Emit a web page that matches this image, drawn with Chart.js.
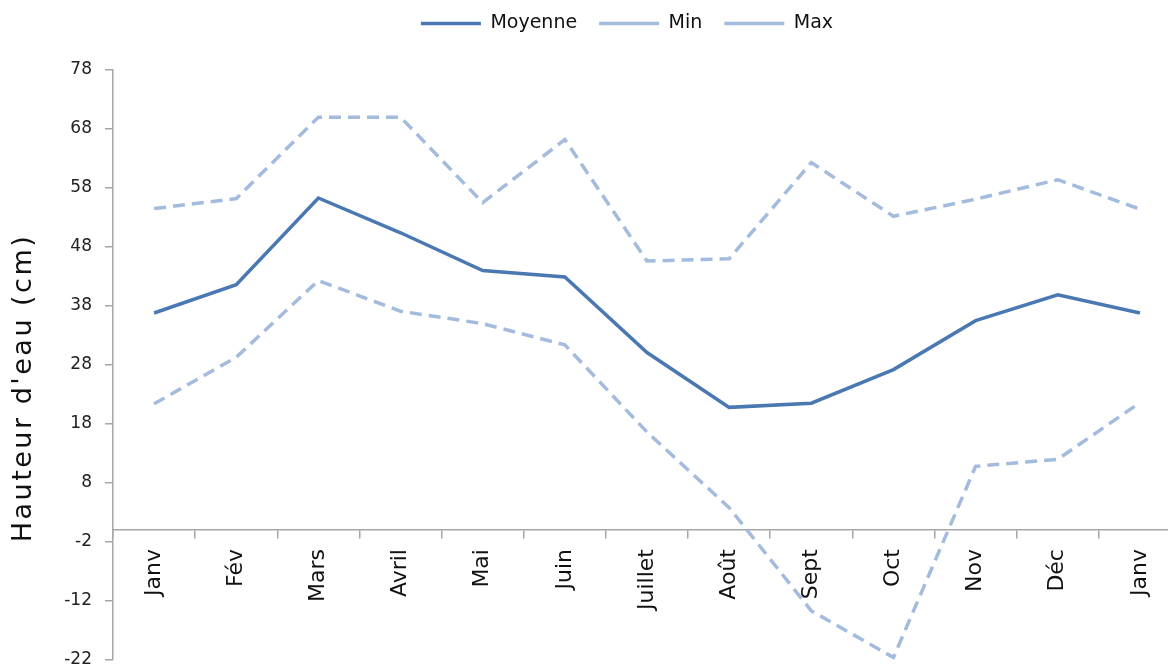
<!DOCTYPE html>
<html>
<head>
<meta charset="utf-8">
<script src="https://cdn.jsdelivr.net/npm/chart.js@4/dist/chart.umd.min.js"></script>
<style>
  html, body { margin: 0; padding: 0; background: #fff; overflow: hidden; }
  #wrap { position: relative; width: 1181px; height: 683px; }
</style>
</head>
<body>
<div id="wrap"><canvas id="graphique"></canvas></div>
<script>
// valeurs
const mois = ['Janv', 'Fév', 'Mars', 'Avril', 'Mai', 'Juin', 'Juillet', 'Août', 'Sept', 'Oct', 'Nov', 'Déc', 'Janv'];
const moyenne = [36.8, 41.6, 56.3, 50.4, 44.0, 42.9, 30.1, 20.8, 21.5, 27.2, 35.5, 39.9, 36.8];
const minimum = [21.4, 29.3, 42.3, 37.1, 35.0, 31.4, 16.6, 3.8, -13.7, -21.6, 10.8, 12.0, 21.6];
const maximum = [54.5, 56.2, 70.0, 70.0, 55.5, 66.2, 45.6, 46.0, 62.3, 53.2, 56.1, 59.4, 54.4];
const yTicks = [-22, -12, -2, 8, 18, 28, 38, 48, 58, 68, 78];

const bleu = '#4a78b2';
const bleuClair = '#a3bbdd';
const gris = '#a6a6a6';

// titre de l'axe Y dessiné à la main (décalé vers le bas comme sur l'original)
const titreAxe = {
    id: 'titreAxe',
    afterDraw(chart) {
        const ctx = chart.ctx;
        ctx.save();
        ctx.translate(24, 388);
        ctx.rotate(-Math.PI / 2);
        ctx.font = '27px "DejaVu Sans"';
        ctx.letterSpacing = '2.5px';
        ctx.fillStyle = '#111';
        ctx.textAlign = 'center';
        ctx.textBaseline = 'middle';
        ctx.fillText("Hauteur d'eau (cm)", 0, 0);
        ctx.restore();
    }
};

// un peu plus d'espace sous la légende, et légende décalée vers la gauche
const reglageLegende = {
    id: 'reglageLegende',
    beforeInit(chart) {
        const fit = chart.legend.fit;
        chart.legend.fit = function () {
            fit.call(this);
            this.height += 27;
        };
    },
    afterLayout(chart) {
        chart.legend.left -= 20;
        chart.legend.right -= 20;
    }
};

const ctx = document.getElementById('graphique').getContext('2d');
new Chart(ctx, {
    type: 'line',
    data: {
        labels: mois,
        datasets: [
            { label: 'Moyenne', data: moyenne, borderColor: bleu, backgroundColor: bleu, borderWidth: 3.5 },
            { label: 'Min', data: minimum, borderColor: bleuClair, backgroundColor: bleuClair, borderWidth: 3.5, borderDash: [12, 7] },
            { label: 'Max', data: maximum, borderColor: bleuClair, backgroundColor: bleuClair, borderWidth: 3.5, borderDash: [12, 7] }
        ]
    },
    options: {
        responsive: true,
        maintainAspectRatio: false,
        animation: false,
        layout: { padding: { left: 0, right: 0, top: -8, bottom: 0 } },
        elements: {
            point: { radius: 0, hoverRadius: 0 },
            line: { tension: 0, borderJoinStyle: 'miter' }
        },
        plugins: {
            tooltip: { enabled: false },
            legend: {
                position: 'top',
                fullSize: false,
                labels: {
                    usePointStyle: true,
                    pointStyle: 'line',
                    pointStyleWidth: 60,
                    color: '#111',
                    font: { family: 'DejaVu Sans', size: 19 },
                    padding: 22
                }
            }
        },
        scales: {
            x: {
                position: { y: 0 },
                offset: true,
                grid: { offset: true, drawOnChartArea: false, tickLength: 8, color: gris, lineWidth: 1.5 },
                border: { display: true, color: gris, width: 1.5 },
                ticks: {
                    minRotation: 90,
                    maxRotation: 90,
                    padding: 11,
                    color: '#111',
                    font: { family: 'DejaVu Sans', size: 22 }
                }
            },
            y: {
                min: -22,
                max: 78,
                afterBuildTicks: axis => { axis.ticks = yTicks.map(v => ({ value: v })); },
                afterFit: axis => { axis.width = 113; },
                grid: { drawOnChartArea: false, tickLength: 8, color: gris, lineWidth: 1.5 },
                border: { display: true, color: gris, width: 1.5 },
                ticks: {
                    padding: 13,
                    color: '#222',
                    font: { family: 'DejaVu Sans', size: 17 }
                }
            }
        }
    },
    plugins: [titreAxe, reglageLegende]
});
</script>
</body>
</html>
